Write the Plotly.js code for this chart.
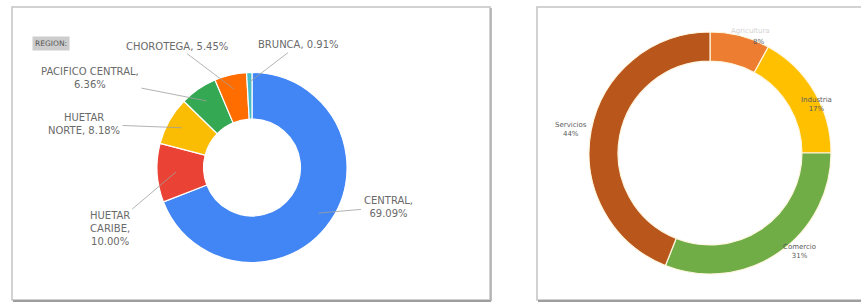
<!DOCTYPE html>
<html>
<head>
<meta charset="utf-8">
<script src="https://cdn.plot.ly/plotly-3.0.1.min.js"></script>
<style>html,body{margin:0;padding:0;background:#fff;}#chart{width:861px;height:304px;}</style>
</head>
<body>
<div id="chart"></div>
<script>
// Left chart: regions
const regionLabels = ["CENTRAL", "HUETAR CARIBE", "HUETAR NORTE", "PACIFICO CENTRAL", "CHOROTEGA", "BRUNCA"];
const regionValues = [69.09, 10.00, 8.18, 6.36, 5.45, 0.91];
const regionText = ["CENTRAL,<br>69.09%", "HUETAR<br>CARIBE,<br>10.00%", "HUETAR<br>NORTE, 8.18%", "PACIFICO CENTRAL,<br>6.36%", "CHOROTEGA, 5.45%", "BRUNCA, 0.91%"];
const regionColors = ["#4285F4", "#EA4335", "#FBBC04", "#34A853", "#FF6D01", "#46BDC6"];

// Right chart: sectors
const sectorLabels = ["Agricultura", "Industria", "Comercio", "Servicios"];
const sectorValues = [8, 17, 31, 44];
const sectorColors = ["#ED7D31", "#FFC000", "#70AD47", "#B8561B"];

const W = 861, H = 304;
// pixel geometry of the two donuts
const L = {cx: 252, cy: 167.5, r: 95, hole: 0.51};
const R = {cx: 710, cy: 153, r: 121, hole: 0.76};
function dom(g) {
  return {x: [(g.cx - g.r) / W, (g.cx + g.r) / W], y: [1 - (g.cy + g.r) / H, 1 - (g.cy - g.r) / H]};
}

// label text centres (pixels)
const regionLabelPos = [[388, 207], [110, 228], [84, 124], [90, 78], [177, 46], [298, 45]];
const regionTipFrac = [0.85, 0.8, 0.85, 0.85, 0.85, 0.9];
const sectorLabelPos = [[766, 36], [834, 94], [818, 262], [571, 130]];

const FONT = 'DejaVu Sans, Verdana, sans-serif';
const total = regionValues.reduce((a, b) => a + b, 0);
let cum = 0;
const ann = [];
regionValues.forEach((v, i) => {
  const mid = (cum + v / 2) / total * 2 * Math.PI; cum += v;
  const rr = L.r * regionTipFrac[i];
  const tx = L.cx + rr * Math.sin(mid), ty = L.cy - rr * Math.cos(mid);
  const [lx, ly] = regionLabelPos[i];
  ann.push({
    xref: 'paper', yref: 'paper', x: tx / W, y: 1 - ty / H,
    ax: lx - tx, ay: ly - ty, showarrow: true, arrowhead: 0, arrowwidth: 0.8,
    arrowcolor: '#a0a0a0', standoff: 0, startstandoff: 1,
    text: regionText[i], font: {family: FONT, size: 10, color: '#6a6a6a'},
    align: 'center'
  });
});
const sectorTotal = sectorValues.reduce((a, b) => a + b, 0);
sectorLabels.forEach((lab, i) => {
  const [lx, ly] = sectorLabelPos[i];
  ann.push({
    xref: 'paper', yref: 'paper', x: lx / W, y: 1 - ly / H, showarrow: false,
    text: (i === 0 ? '' : lab + '<br>') + Math.round(sectorValues[i] / sectorTotal * 100) + '%',
    font: {family: FONT, size: 7, color: '#5a5a5a'}, align: 'center'
  });
});
// faint category name above the small orange slice
ann.push({xref: 'paper', yref: 'paper', x: 772 / W, y: 1 - 25 / H, showarrow: false,
  text: sectorLabels[0], font: {family: FONT, size: 7, color: '#d2d2d2'}});
// chart title
ann.push({xref: 'paper', yref: 'paper', x: 32 / W, y: 1 - 36 / H, xanchor: 'left', showarrow: false,
  text: 'REGION:', bgcolor: '#cdcdcd', borderpad: 2,
  font: {family: FONT, size: 7.5, color: '#555'}});

const shapes = [
  {type: 'rect', xref: 'paper', yref: 'paper', x0: 12 / W, x1: 490 / W, y0: 1 - 300 / H, y1: 1 - 7 / H,
   line: {color: '#c4c4c4', width: 1.5}},
  {type: 'line', xref: 'paper', yref: 'paper', x0: 13 / W, x1: 491 / W, y0: 1 - 301 / H, y1: 1 - 301 / H,
   line: {color: '#9e9e9e', width: 2}},
  {type: 'line', xref: 'paper', yref: 'paper', x0: 491 / W, x1: 491 / W, y0: 1 - 8 / H, y1: 1 - 301 / H,
   line: {color: '#aaaaaa', width: 1.5}},
  {type: 'rect', xref: 'paper', yref: 'paper', x0: 537 / W, x1: 870 / W, y0: 1 - 300 / H, y1: 1 - 7 / H,
   line: {color: '#c4c4c4', width: 1.5}},
  {type: 'line', xref: 'paper', yref: 'paper', x0: 538 / W, x1: 870 / W, y0: 1 - 301 / H, y1: 1 - 301 / H,
   line: {color: '#9e9e9e', width: 2}}
];

const data = [
  {type: 'pie', labels: regionLabels, values: regionValues, hole: L.hole, sort: false,
   direction: 'clockwise', rotation: 0, textinfo: 'none', domain: dom(L),
   marker: {colors: regionColors, line: {color: '#ffffff', width: 1.2}}, showlegend: false},
  {type: 'pie', labels: sectorLabels, values: sectorValues, hole: R.hole, sort: false,
   direction: 'clockwise', rotation: 0, textinfo: 'none', domain: dom(R),
   marker: {colors: sectorColors, line: {color: '#fff6e0', width: 1.2}}, showlegend: false}
];

const layout = {
  width: W, height: H, margin: {l: 0, r: 0, t: 0, b: 0},
  paper_bgcolor: '#ffffff', plot_bgcolor: '#ffffff',
  showlegend: false, annotations: ann, shapes: shapes
};
Plotly.newPlot('chart', data, layout, {displayModeBar: false, staticPlot: true});
</script>
</body>
</html>
